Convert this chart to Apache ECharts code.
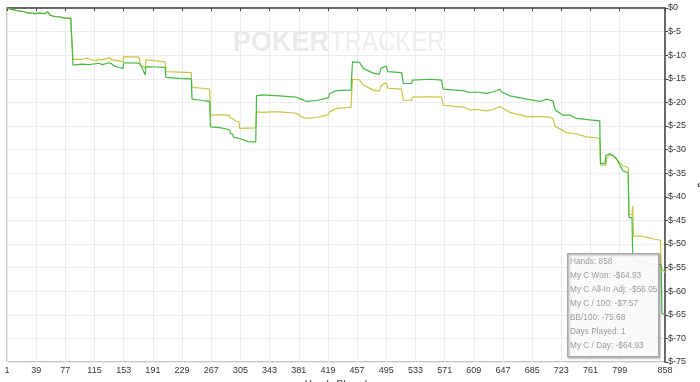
<!DOCTYPE html>
<html>
<head>
<meta charset="utf-8">
<script src="https://cdn.jsdelivr.net/npm/echarts@6/dist/echarts.min.js"></script>
<style>
html,body{margin:0;padding:0;background:#fff;}
#chart{width:700px;height:382px;}
</style>
</head>
<body>
<div id="chart"></div>
<script>
// ---- data ----
const totalHands = 858;
const handCategories = Array.from({length: totalHands}, (_, i) => String(i + 1));

// shared start (both lines identical before first all-in)
const sharedStart = [[1,0],[4,-0.2],[13,-0.5],[23,-0.8],[29,-1.1],[30,-0.8],[32,-1.1],[37,-1.2],[44,-1.1],[50,-1.2],[54,-0.8],[56,-0.8],[57,-1.5],[62,-1.8],[70,-1.9],[75,-2.1],[84,-2.2],[86,-2.2]];

// My C Won (green) [hand, $]
const wonPoints = [[87,-12.1],[99,-11.9],[108,-12.0],[121,-11.7],[125,-12.0],[134,-11.6],[138,-11.9],[141,-12.3],[147,-12.6],[152,-12.8],[153,-11.6],[173,-11.7],[176,-12.4],[179,-13.5],[181,-14.2],[182,-12.4],[195,-12.5],[207,-12.6],[208,-14.7],[225,-14.9],[241,-15.0],[242,-19.3],[255,-19.6],[265,-19.8],[266,-25.2],[280,-25.4],[291,-25.8],[292,-26.6],[295,-26.7],[296,-27.4],[303,-27.6],[304,-28.0],[315,-28.3],[325,-28.4],[326,-18.6],[334,-18.4],[345,-18.5],[356,-18.6],[378,-18.9],[384,-19.3],[391,-19.8],[404,-19.6],[412,-19.3],[420,-19.0],[421,-18.1],[430,-17.5],[449,-17.4],[451,-11.4],[460,-11.5],[465,-12.8],[478,-13.8],[486,-14.0],[488,-12.8],[495,-12.3],[497,-13.5],[515,-13.7],[517,-16.0],[528,-16.0],[529,-15.3],[552,-15.1],[567,-15.3],[569,-17.2],[595,-17.5],[604,-17.9],[612,-17.8],[625,-18.1],[634,-17.8],[643,-17.2],[645,-17.8],[656,-18.6],[678,-19.3],[695,-19.8],[704,-19.3],[712,-19.7],[714,-19.8],[715,-21.6],[725,-22.7],[734,-22.7],[743,-23.4],[760,-23.7],[773,-23.9],[774,-32.9],[780,-32.9],[781,-31.2],[786,-30.9],[791,-31.4],[795,-32.0],[799,-33.2],[803,-34.5],[810,-34.9],[811,-44.4],[815,-44.4],[816,-53.4],[825,-53.8],[834,-54.1],[845,-54.3],[853,-54.4],[854,-64.7],[858,-64.93]];

// My C All-In Adj (yellow) [hand, $]
const allInPoints = [[87,-10.9],[99,-10.9],[104,-10.6],[117,-11.2],[121,-10.9],[125,-11.0],[134,-10.5],[138,-11.0],[147,-11.2],[152,-11.4],[153,-10.3],[173,-10.4],[175,-12.1],[181,-12.8],[182,-11.0],[195,-11.2],[207,-11.4],[208,-13.5],[225,-13.6],[241,-13.7],[242,-16.8],[255,-17.0],[265,-17.2],[266,-22.7],[280,-22.6],[291,-22.8],[292,-23.3],[295,-23.4],[296,-23.7],[299,-24.0],[303,-24.1],[304,-25.5],[325,-25.4],[326,-22.0],[334,-22.1],[345,-22.0],[356,-22.0],[378,-22.3],[384,-23.0],[391,-23.4],[404,-23.2],[412,-22.9],[420,-22.6],[421,-22.0],[430,-21.3],[449,-21.0],[451,-15.1],[460,-15.2],[465,-16.3],[478,-17.4],[486,-17.6],[488,-16.5],[495,-15.8],[497,-17.0],[515,-17.2],[517,-19.5],[528,-19.6],[529,-18.9],[552,-18.8],[567,-18.9],[569,-20.6],[595,-21.0],[604,-21.6],[612,-21.5],[625,-21.8],[634,-21.5],[643,-20.9],[645,-21.3],[656,-22.1],[678,-23.0],[704,-23.0],[712,-23.4],[714,-23.4],[715,-25.1],[717,-25.5],[730,-26.4],[743,-26.7],[756,-27.3],[773,-27.6],[774,-33.3],[781,-33.3],[782,-31.8],[786,-31.0],[791,-31.3],[795,-32.0],[799,-32.8],[803,-33.4],[810,-33.8],[811,-43.8],[815,-43.8],[816,-41.9],[817,-48.4],[825,-48.3],[834,-48.6],[845,-49.0],[852,-49.2],[853,-55.0],[858,-56.05]];

const statsLines = ['Hands: 858','My C Won: -$64.93','My C All-In Adj: -$56.05','My C / 100: -$7.57','BB/100: -75.68','Days Played: 1','My C / Day: -$64.93'];

const yMin = -75, yMax = 0, yStep = 5;
const labelEvery = 38;
const lastLabelIndex = 798;

// ---- chart ----
function toSeries(points){ return points.map(p => [String(p[0]), p[1]]); }
function showTick(idx){ return (idx % labelEvery === 0 && idx <= lastLabelIndex) || idx === totalHands - 1; }

const chart = echarts.init(document.getElementById('chart'), null, {renderer:'canvas'});
const FONT = 'Liberation Sans, Arial, sans-serif';

chart.setOption({
  animation: false,
  backgroundColor: '#fff',
  grid: {left: 7, right: 35, top: 8, bottom: 20, containLabel: false, outerBoundsMode: 'none',
    show: true, borderColor: '#8a8a8a', borderWidth: 1},
  xAxis: {
    type: 'category',
    data: handCategories,
    boundaryGap: false,
    name: 'Hands Played',
    nameLocation: 'middle',
    nameGap: 16,
    nameTextStyle: {fontSize: 10, color: '#333', fontFamily: FONT},
    axisLine: {lineStyle: {color: '#444', width: 1.5}},
    axisTick: {interval: showTick, length: 3, lineStyle: {color: '#444'}},
    axisLabel: {interval: showTick, fontSize: 9, color: '#333', margin: 4, fontFamily: FONT},
    splitLine: {show: true, interval: showTick, lineStyle: {color: '#ececec', width: 1}}
  },
  yAxis: {
    type: 'value',
    position: 'right',
    min: yMin, max: yMax, interval: yStep,
    name: '$',
    nameLocation: 'middle',
    nameGap: 30,
    nameTextStyle: {fontSize: 9, color: '#333', fontFamily: FONT},
    axisLine: {show: true, lineStyle: {color: '#444', width: 1.5}},
    axisTick: {show: true, length: 3, lineStyle: {color: '#444'}},
    axisLabel: {fontSize: 9, color: '#333', margin: 3, fontFamily: FONT, formatter: v => '$' + v},
    splitLine: {show: true, lineStyle: {color: '#ececec', width: 1}}
  },
  graphic: [
    {type: 'text', left: 233, top: 28, z: 0, silent: true, scaleX: 0.9,
      style: {text: 'POKER', font: 'bold 30px ' + FONT, fill: '#e9e9e9'}},
    {type: 'text', left: 330, top: 28, z: 0, silent: true, scaleX: 0.8,
      style: {text: 'TRACKER', font: '30px ' + FONT, fill: '#ededed'}},
    {type: 'rect', left: 567, top: 253, z: 100, silent: true,
      shape: {width: 91, height: 103},
      style: {fill: 'rgba(255,255,255,0.9)', stroke: '#a8a8a8', lineWidth: 1.5, shadowBlur: 2, shadowColor: 'rgba(0,0,0,0.25)', shadowOffsetX: 1, shadowOffsetY: 1}},
    {type: 'text', left: 570, top: 255, z: 101, silent: true, scaleX: 0.92,
      style: {text: statsLines.join('\n'), font: '9px ' + FONT, fill: '#9a9a9a', lineHeight: 14}}
  ],
  series: [
    {name: 'My C All-In Adj', type: 'line', showSymbol: false, symbol: 'none',
      data: toSeries(sharedStart.concat(allInPoints)),
      lineStyle: {color: '#c6c646', width: 1.2}, z: 3},
    {name: 'My C Won', type: 'line', showSymbol: false, symbol: 'none',
      data: toSeries(sharedStart.concat(wonPoints)),
      lineStyle: {color: '#44b944', width: 1.2}, z: 4}
  ]
});
</script>
</body>
</html>
